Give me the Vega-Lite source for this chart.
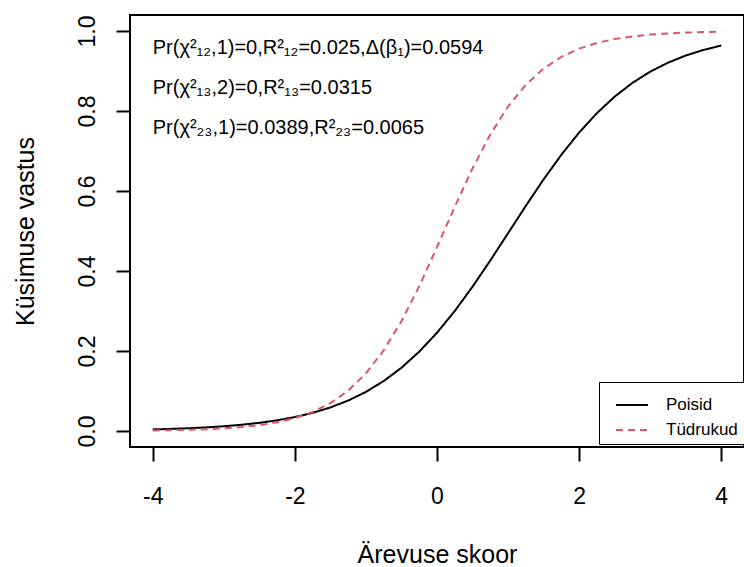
{
  "$schema": "https://vega.github.io/schema/vega-lite/v6.json",
  "width": 614,
  "height": 432,
  "autosize": "none",
  "padding": {"left": 130, "top": 15, "right": 0, "bottom": 120},
  "background": "white",
  "config": {
    "font": "Liberation Sans",
    "view": {"stroke": "black", "strokeWidth": 2},
    "axis": {"grid": false, "domain": false}
  },
  "datasets": {
    "curves": [
      {"x": -4.0, "p": 0.0040, "group": "Poisid"},
      {"x": -3.75, "p": 0.0052, "group": "Poisid"},
      {"x": -3.5, "p": 0.0069, "group": "Poisid"},
      {"x": -3.25, "p": 0.0090, "group": "Poisid"},
      {"x": -3.0, "p": 0.0119, "group": "Poisid"},
      {"x": -2.75, "p": 0.0156, "group": "Poisid"},
      {"x": -2.5, "p": 0.0204, "group": "Poisid"},
      {"x": -2.25, "p": 0.0267, "group": "Poisid"},
      {"x": -2.0, "p": 0.0348, "group": "Poisid"},
      {"x": -1.75, "p": 0.0454, "group": "Poisid"},
      {"x": -1.5, "p": 0.0589, "group": "Poisid"},
      {"x": -1.25, "p": 0.0761, "group": "Poisid"},
      {"x": -1.0, "p": 0.0978, "group": "Poisid"},
      {"x": -0.75, "p": 0.1249, "group": "Poisid"},
      {"x": -0.5, "p": 0.1582, "group": "Poisid"},
      {"x": -0.25, "p": 0.1983, "group": "Poisid"},
      {"x": 0.0, "p": 0.2456, "group": "Poisid"},
      {"x": 0.25, "p": 0.3000, "group": "Poisid"},
      {"x": 0.5, "p": 0.3608, "group": "Poisid"},
      {"x": 0.75, "p": 0.4263, "group": "Poisid"},
      {"x": 1.0, "p": 0.4945, "group": "Poisid"},
      {"x": 1.25, "p": 0.5629, "group": "Poisid"},
      {"x": 1.5, "p": 0.6290, "group": "Poisid"},
      {"x": 1.75, "p": 0.6906, "group": "Poisid"},
      {"x": 2.0, "p": 0.7461, "group": "Poisid"},
      {"x": 2.25, "p": 0.7946, "group": "Poisid"},
      {"x": 2.5, "p": 0.8359, "group": "Poisid"},
      {"x": 2.75, "p": 0.8703, "group": "Poisid"},
      {"x": 3.0, "p": 0.8983, "group": "Poisid"},
      {"x": 3.25, "p": 0.9208, "group": "Poisid"},
      {"x": 3.5, "p": 0.9386, "group": "Poisid"},
      {"x": 3.75, "p": 0.9527, "group": "Poisid"},
      {"x": 4.0, "p": 0.9637, "group": "Poisid"},
      {"x": -4.0, "p": 0.0013, "group": "Tüdrukud"},
      {"x": -3.75, "p": 0.0020, "group": "Tüdrukud"},
      {"x": -3.5, "p": 0.0029, "group": "Tüdrukud"},
      {"x": -3.25, "p": 0.0044, "group": "Tüdrukud"},
      {"x": -3.0, "p": 0.0066, "group": "Tüdrukud"},
      {"x": -2.75, "p": 0.0098, "group": "Tüdrukud"},
      {"x": -2.5, "p": 0.0146, "group": "Tüdrukud"},
      {"x": -2.25, "p": 0.0217, "group": "Tüdrukud"},
      {"x": -2.0, "p": 0.0322, "group": "Tüdrukud"},
      {"x": -1.75, "p": 0.0476, "group": "Tüdrukud"},
      {"x": -1.5, "p": 0.0696, "group": "Tüdrukud"},
      {"x": -1.25, "p": 0.1009, "group": "Tüdrukud"},
      {"x": -1.0, "p": 0.1441, "group": "Tüdrukud"},
      {"x": -0.75, "p": 0.2015, "group": "Tüdrukud"},
      {"x": -0.5, "p": 0.2745, "group": "Tüdrukud"},
      {"x": -0.25, "p": 0.3619, "group": "Tüdrukud"},
      {"x": 0.0, "p": 0.4596, "group": "Tüdrukud"},
      {"x": 0.25, "p": 0.5605, "group": "Tüdrukud"},
      {"x": 0.5, "p": 0.6566, "group": "Tüdrukud"},
      {"x": 0.75, "p": 0.7414, "group": "Tüdrukud"},
      {"x": 1.0, "p": 0.8112, "group": "Tüdrukud"},
      {"x": 1.25, "p": 0.8656, "group": "Tüdrukud"},
      {"x": 1.5, "p": 0.9062, "group": "Tüdrukud"},
      {"x": 1.75, "p": 0.9354, "group": "Tüdrukud"},
      {"x": 2.0, "p": 0.9560, "group": "Tüdrukud"},
      {"x": 2.25, "p": 0.9702, "group": "Tüdrukud"},
      {"x": 2.5, "p": 0.9799, "group": "Tüdrukud"},
      {"x": 2.75, "p": 0.9865, "group": "Tüdrukud"},
      {"x": 3.0, "p": 0.9910, "group": "Tüdrukud"},
      {"x": 3.25, "p": 0.9940, "group": "Tüdrukud"},
      {"x": 3.5, "p": 0.9960, "group": "Tüdrukud"},
      {"x": 3.75, "p": 0.9973, "group": "Tüdrukud"},
      {"x": 4.0, "p": 0.9982, "group": "Tüdrukud"}
    ],
    "notes": [
      {"x": -4.0, "p": 0.942, "label": "Pr(χ²₁₂,1)=0,R²₁₂=0.025,Δ(β₁)=0.0594"},
      {"x": -4.0, "p": 0.842, "label": "Pr(χ²₁₃,2)=0,R²₁₃=0.0315"},
      {"x": -4.0, "p": 0.743, "label": "Pr(χ²₂₃,1)=0.0389,R²₂₃=0.0065"}
    ]
  },
  "layer": [
    {
      "data": {"name": "curves"},
      "mark": {"type": "line", "strokeWidth": 2},
      "encoding": {
        "x": {
          "field": "x", "type": "quantitative",
          "scale": {"domain": [-4.32, 4.32], "nice": false, "zero": false},
          "axis": {
            "values": [-4, -2, 0, 2, 4],
            "labelExpr": "'' + datum.value",
            "title": "Ärevuse skoor",
            "titleFontSize": 25, "titleFontWeight": "normal", "titleColor": "black",
            "titleBaseline": "alphabetic", "titleX": 307, "titleY": 115, "titleAlign": "center",
            "labelFontSize": 23, "labelColor": "black", "labelBaseline": "alphabetic",
            "labelPadding": 42, "tickSize": 14, "tickWidth": 2, "tickColor": "black",
            "labelFlush": false
          }
        },
        "y": {
          "field": "p", "type": "quantitative",
          "scale": {"domain": [-0.04, 1.04], "nice": false, "zero": false},
          "axis": {
            "values": [0, 0.2, 0.4, 0.6, 0.8, 1.0],
            "format": ".1f",
            "title": "Küsimuse vastus",
            "titleFontSize": 25, "titleFontWeight": "normal", "titleColor": "black",
            "titleAngle": -90, "titleBaseline": "alphabetic", "titleX": -97, "titleY": 216, "titleAlign": "center",
            "labelFontSize": 23, "labelColor": "black", "labelAngle": -90,
            "labelAlign": "center", "labelBaseline": "alphabetic",
            "labelPadding": 22, "tickSize": 14, "tickWidth": 2, "tickColor": "black",
            "labelFlush": false
          }
        },
        "color": {
          "field": "group", "type": "nominal",
          "scale": {"domain": ["Poisid", "Tüdrukud"], "range": ["black", "#DF536B"]},
          "legend": {
            "orient": "none", "legendX": 469, "legendY": 367, "title": null,
            "padding": 6, "strokeColor": "black", "fillColor": "white",
            "symbolType": "stroke", "symbolSize": 1024, "symbolStrokeWidth": 2, "symbolOffset": 10,
            "labelFontSize": 17, "labelColor": "black", "labelOffset": 17, "rowPadding": -11,
            "labelExpr": "datum.label + '        '"
          }
        },
        "strokeDash": {
          "field": "group", "type": "nominal",
          "scale": {"domain": ["Poisid", "Tüdrukud"], "range": [[1, 0], [7, 5]]},
          "legend": {
            "orient": "none", "legendX": 469, "legendY": 367, "title": null,
            "padding": 6, "strokeColor": "black", "fillColor": "white",
            "symbolType": "stroke", "symbolSize": 1024, "symbolStrokeWidth": 2, "symbolOffset": 10,
            "labelFontSize": 17, "labelColor": "black", "labelOffset": 17, "rowPadding": -11,
            "labelExpr": "datum.label + '        '"
          }
        }
      }
    },
    {
      "data": {"name": "notes"},
      "mark": {"type": "text", "align": "left", "baseline": "alphabetic", "fontSize": 20, "color": "black"},
      "encoding": {
        "x": {"field": "x", "type": "quantitative"},
        "y": {"field": "p", "type": "quantitative"},
        "text": {"field": "label"}
      }
    }
  ]
}
